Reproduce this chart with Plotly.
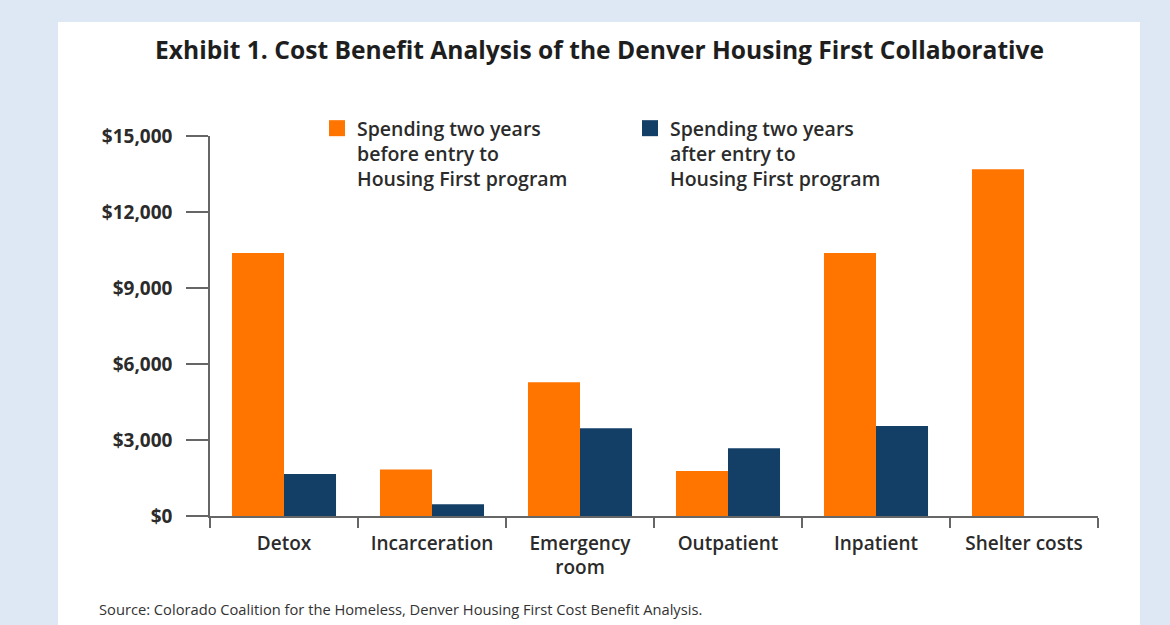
import plotly.graph_objects as go

categories = ["Detox", "Incarceration", "Emergency<br>room", "Outpatient", "Inpatient", "Shelter costs"]
before_entry = [10380, 1840, 5280, 1780, 10380, 13690]
after_entry = [1660, 460, 3460, 2670, 3550, 0]
series_names = [
    "Spending two years<br>before entry to<br>Housing First program",
    "Spending two years<br>after entry to<br>Housing First program",
]
y_ticks = [0, 3000, 6000, 9000, 12000, 15000]
y_tick_text = ["$0", "$3,000", "$6,000", "$9,000", "$12,000", "$15,000"]

ORANGE = "#ff7500"
NAVY = "#133f67"
AXIS = "#666666"
TEXT = "#2b2b2b"
FONT = "'Open Sans', Lato, sans-serif"

W, H = 1170, 625

fig = go.Figure()
fig.add_trace(go.Bar(x=categories, y=before_entry, marker=dict(color=ORANGE, line=dict(width=0)),
                     name=series_names[0], showlegend=False))
fig.add_trace(go.Bar(x=categories, y=after_entry, marker=dict(color=NAVY, line=dict(width=0)),
                     name=series_names[1], showlegend=False))
# legend entries
for nm, col in zip(series_names, [ORANGE, NAVY]):
    fig.add_trace(go.Scatter(x=[None], y=[None], mode="markers", name=nm,
                             marker=dict(symbol="square", size=18, color=col)))

def px_x(px):
    return px / W

def px_y(py):
    return (H - py) / H

fig.update_layout(
    width=W, height=H,
    margin=dict(l=0, r=0, t=0, b=0),
    paper_bgcolor="#dde8f4",
    plot_bgcolor="rgba(0,0,0,0)",
    barmode="group",
    bargap=0.297,
    bargroupgap=0,
    font=dict(family=FONT, color=TEXT),
    showlegend=True,
    legend=dict(
        orientation="h",
        x=px_x(317), xanchor="left",
        y=px_y(109), yanchor="top",
        bgcolor="rgba(0,0,0,0)",
        font=dict(family=FONT, size=19.5, color=TEXT, weight=600),
        valign="top",
        itemsizing="trace",
        entrywidth=268,
        traceorder="normal",
    ),
    xaxis=dict(
        domain=[px_x(210), px_x(1098)],
        type="category",
        showline=True, linecolor=AXIS, linewidth=1.5,
        ticks="outside", tickson="boundaries", ticklen=10, tickcolor=AXIS, tickwidth=1.5,
        ticklabelstandoff=9,
        tickfont=dict(family=FONT, size=19, color=TEXT, weight=600),
        showgrid=False, zeroline=False, automargin=False,
        fixedrange=True,
    ),
    yaxis=dict(
        domain=[px_y(516), px_y(136)],
        range=[0, 15000],
        tickvals=y_ticks, ticktext=y_tick_text,
        showline=True, linecolor=AXIS, linewidth=1.5,
        ticks="outside", ticklen=22, tickcolor=AXIS, tickwidth=1.5,
        ticklabelstandoff=10,
        tickfont=dict(family=FONT, size=19, color=TEXT, weight=700),
        showgrid=False, zeroline=False, automargin=False,
        fixedrange=True,
    ),
    shapes=[dict(type="rect", xref="paper", yref="paper",
                 x0=px_x(58), x1=px_x(1140), y0=-0.05, y1=px_y(22),
                 fillcolor="white", line=dict(width=0), layer="below")],
    annotations=[
        dict(text="Exhibit 1. Cost Benefit Analysis of the Denver Housing First Collaborative",
             xref="paper", yref="paper", x=px_x(599), y=px_y(50), xanchor="center", yanchor="middle",
             showarrow=False, font=dict(family=FONT, size=24.6, color="#1e1e1e", weight=700)),
        dict(text="Source: Colorado Coalition for the Homeless, Denver Housing First Cost Benefit Analysis.",
             xref="paper", yref="paper", x=px_x(97), y=px_y(609), xanchor="left", yanchor="middle",
             showarrow=False, font=dict(family=FONT, size=14.7, color="#333333")),
    ],
)

fig.write_html("out.html", config={"displayModeBar": False},
               post_script="document.body.style.margin='0px';")
